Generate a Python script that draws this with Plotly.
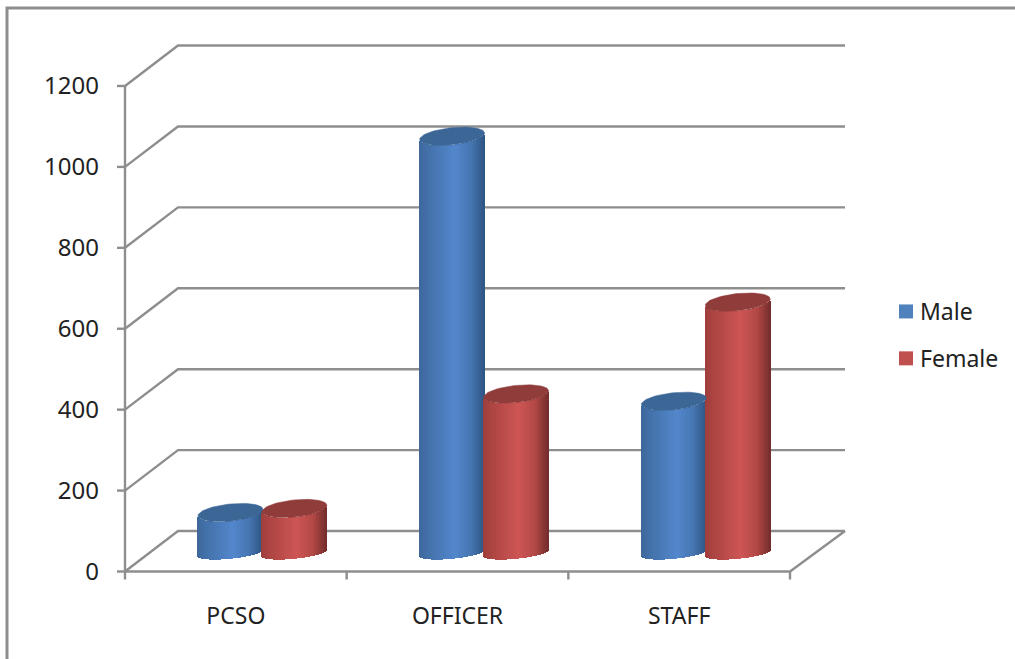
import math
import plotly.graph_objects as go

categories = ["PCSO", "OFFICER", "STAFF"]
male = [100, 1030, 375]
female = [110, 393, 620]
y_ticks = [0, 200, 400, 600, 800, 1000, 1200]

W, H = 1015, 659
PX_L, PX_R, PX_T, PX_B = 100, 850, 38, 600
X0_PX, Y0_PX = 125, 571.5
PX_PER_CAT, PX_PER_UNIT = 221.67, 0.4046
GRID = "#8e8e8e"

xr = [(PX_L - X0_PX) / PX_PER_CAT, (PX_R - X0_PX) / PX_PER_CAT]
yr = [(Y0_PX - PX_B) / PX_PER_UNIT, (Y0_PX - PX_T) / PX_PER_UNIT]

DEPTH_X = 53 / PX_PER_CAT
WALL_EXTRA = 2 / PX_PER_CAT
DEPTH_Y = 100
N_CAT = len(categories)


def lerp_stops(u, stops):
    for (u0, c0), (u1, c1) in zip(stops, stops[1:]):
        if u <= u1:
            t = (u - u0) / (u1 - u0)
            rgb = [round(a + (b - a) * t) for a, b in zip(c0, c1)]
            return "rgb(%d,%d,%d)" % tuple(rgb)
    return "rgb(%d,%d,%d)" % stops[-1][1]


BLUE = [(-1, (62, 104, 155)), (-0.75, (66, 112, 168)), (0.1, (83, 135, 204)),
        (0.6, (70, 118, 178)), (1, (46, 86, 132))]
RED = [(-1, (158, 62, 60)), (-0.75, (172, 68, 66)), (0.1, (205, 86, 84)),
       (0.6, (178, 72, 70)), (1, (116, 46, 44))]
CAP_BLUE = "#3c6696"
CAP_RED = "#8f3c3a"

fig = go.Figure()

# Walls, floor and axis furniture on the lower axes
gx, gy = [], []
for t in y_ticks:
    gx += [0, DEPTH_X, N_CAT + DEPTH_X + WALL_EXTRA, None]
    gy += [t, t + DEPTH_Y, t + DEPTH_Y, None]
gx += [0, N_CAT, N_CAT + DEPTH_X + WALL_EXTRA, None, 0, 0, None]
gy += [0, 0, DEPTH_Y, None, 0, y_ticks[-1], None]
for t in y_ticks:
    gx += [-8 / PX_PER_CAT, 0, None]
    gy += [t, t, None]
for i in range(N_CAT + 1):
    gx += [i, i, None]
    gy += [0, -8 / PX_PER_UNIT, None]
fig.add_trace(go.Scatter(x=gx, y=gy, mode="lines", line=dict(color=GRID, width=2.4),
                         hoverinfo="skip", showlegend=False, cliponaxis=False))

# Cylinders
RX = 32.5 / PX_PER_CAT
HALF = 32 / PX_PER_CAT
BASE = (571.5 - 553) / PX_PER_UNIT
SHIFT = 26.6 / PX_PER_CAT
TILT = 3.2 / PX_PER_UNIT
RY_BOTTOM = 5.8 / PX_PER_UNIT
RY_TOP = 8.6 / PX_PER_UNIT
STRIPS = 65


def cylinder(cx, value, stops, cap):
    xs, bases, heights, cols = [], [], [], []
    for k in range(STRIPS):
        u = -1 + (k + 0.5) * 2 / STRIPS
        root = math.sqrt(1 - u * u)
        bottom = BASE + TILT * u - RY_BOTTOM * root
        top = BASE + value + TILT * u - RY_TOP * root
        xs.append(cx + u * RX)
        bases.append(bottom)
        heights.append(top - bottom)
        cols.append(lerp_stops(u, stops))
    fig.add_trace(go.Bar(x=xs, y=heights, base=bases, width=RX * 2 / STRIPS * 1.15,
                         marker=dict(color=cols, line=dict(width=0)),
                         xaxis="x2", yaxis="y2", hoverinfo="skip", showlegend=False))
    ex, ey = [], []
    for k in range(73):
        a = k * 2 * math.pi / 72
        ex.append(cx + RX * math.cos(a))
        ey.append(BASE + value + TILT * math.cos(a) + RY_TOP * math.sin(a))
    fig.add_trace(go.Scatter(x=ex, y=ey, mode="lines", fill="toself", fillcolor=cap,
                             line=dict(color=cap, width=0.5), xaxis="x2", yaxis="y2",
                             hoverinfo="skip", showlegend=False))


for i in range(N_CAT):
    c = i + 0.5 + SHIFT
    cylinder(c - HALF, male[i], BLUE, CAP_BLUE)
    cylinder(c + HALF, female[i], RED, CAP_RED)

# Legend entries
for name, col in [("Male", "#4f81bd"), ("Female", "#c0504d")]:
    fig.add_trace(go.Scatter(x=[None], y=[None], mode="markers", name=name, legendgroup=name,
                             marker=dict(symbol="square", size=14, color=col),
                             xaxis="x2", yaxis="y2"))

FONT = "Noto Sans"
TXT = "#222222"


def px(x):
    return (x - PX_L) / (PX_R - PX_L)


def py(y):
    return (PX_B - y) / (PX_B - PX_T)


frame = "M %f %f L %f %f L %f %f" % (px(7), py(H), px(7), py(8), px(W), py(8))

fig.update_layout(
    width=W, height=H,
    margin=dict(l=PX_L, r=W - PX_R, t=PX_T, b=H - PX_B, autoexpand=False),
    paper_bgcolor="white", plot_bgcolor="white",
    barmode="overlay", bargap=0,
    font=dict(family=FONT, color=TXT),
    xaxis=dict(range=xr, tickmode="array", tickvals=[i + 0.5 for i in range(N_CAT)],
               ticktext=categories, showgrid=False, zeroline=False, showline=False,
               ticks="", tickfont=dict(size=23, color=TXT, family=FONT), fixedrange=True),
    yaxis=dict(range=yr, tickmode="array", tickvals=y_ticks, ticktext=[str(t) for t in y_ticks],
               showgrid=False, zeroline=False, showline=False, ticks="",
               tickfont=dict(size=24, color=TXT, family=FONT), fixedrange=True),
    xaxis2=dict(range=xr, overlaying="x", visible=False, fixedrange=True),
    yaxis2=dict(range=yr, overlaying="y", visible=False, fixedrange=True),
    legend=dict(x=px(880), y=py(290), xanchor="left", yanchor="top",
                font=dict(size=23, color=TXT, family=FONT), tracegroupgap=14,
                bgcolor="rgba(0,0,0,0)", itemclick=False, itemdoubleclick=False),
    shapes=[dict(type="path", path=frame, xref="paper", yref="paper",
                 line=dict(color=GRID, width=3), layer="below")],
)

fig.write_html("out.html",
               post_script="document.body.style.margin='0';document.body.style.overflow='hidden';"
                           "document.querySelectorAll('.legendsymbols').forEach(function(g){g.setAttribute('transform','translate(6,0)');});",
               config={"displayModeBar": False})
